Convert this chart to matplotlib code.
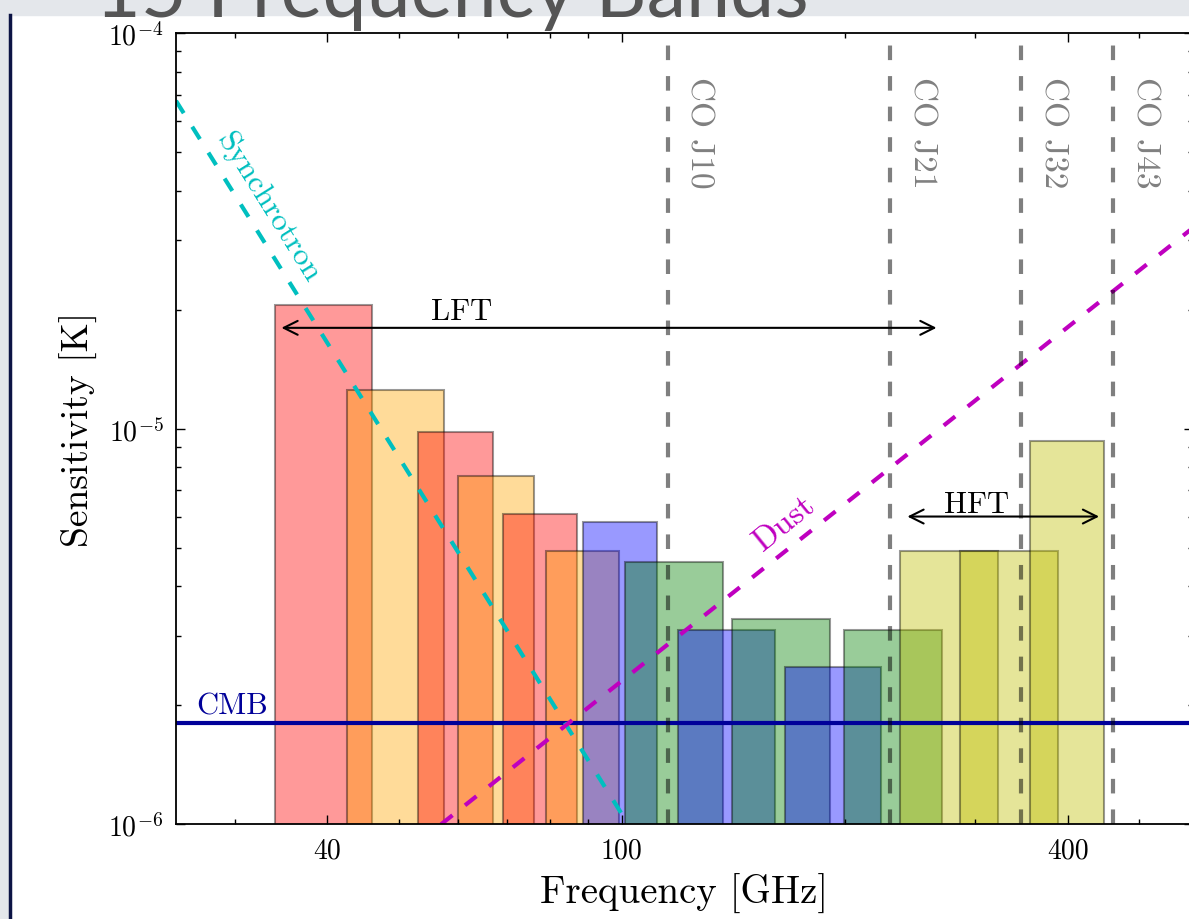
import numpy as np
import matplotlib
matplotlib.use('Agg')
import matplotlib.pyplot as plt
from matplotlib.ticker import LogLocator, NullFormatter
from matplotlib.patches import Rectangle
from matplotlib.lines import Line2D

plt.rcParams['font.family'] = 'serif'
plt.rcParams['font.serif'] = ['cmr10']
plt.rcParams['mathtext.fontset'] = 'cm'
plt.rcParams['axes.unicode_minus'] = False
plt.rcParams['axes.formatter.use_mathtext'] = True
plt.rcParams['lines.scale_dashes'] = False

# frequency bands: centre [GHz], width [GHz], sensitivity [K]
band_freq = [40, 50, 60, 68, 78, 89, 100, 119, 140, 166, 195, 235, 280, 337, 402]
band_width = [12, 15, 14, 16, 18, 20, 23, 36, 42, 50, 58, 71, 85, 102, 92]
band_sens = [2.06e-5, 1.25e-5, 9.8e-6, 7.6e-6, 6.1e-6, 4.9e-6, 5.8e-6, 4.6e-6,
             3.1e-6, 3.3e-6, 2.5e-6, 3.1e-6, 4.9e-6, 4.9e-6, 9.3e-6]
band_color = ['r', 'orange', 'r', 'orange', 'r', 'orange', 'b', 'g',
              'b', 'g', 'b', 'g', 'y', 'y', 'y']

# CO lines
co_freq = [115.27, 230.54, 345.80, 461.04]
co_names = ['CO J10', 'CO J21', 'CO J32', 'CO J43']

# foregrounds / CMB level
cmb_level = 1.8e-6
synch_freq = [25, 102]
synch_temp = [6.75e-5, 1.0e-6]
dust_freq = [57, 600]
dust_temp = [1.0e-6, 3.3e-5]

# telescopes coverage
lft_range = [34.7, 266]
lft_level = 1.8e-5
hft_range = [243, 441]
hft_level = 6.0e-6

xtick_vals = [40, 100, 400]

W, H = 1189, 920
fig = plt.figure(figsize=(W / 100, H / 100), dpi=100)

# slide background bits around the figure
fig.add_artist(Rectangle((0, 1 - 16 / H), 1, 16 / H, transform=fig.transFigure,
                         color='#e4e7eb', zorder=-5))
fig.add_artist(Rectangle((0, 0), 8 / W, 1, transform=fig.transFigure,
                         color='#e4e7eb', zorder=-5))
fig.add_artist(Line2D([9.5 / W, 9.5 / W], [0, 1 - 16 / H], transform=fig.transFigure,
                      color='#0c1445', lw=2.5, zorder=5))

ax = fig.add_axes([176 / W, 94.7 / H, 1016.7 / W, 791 / H])
ax.set_xscale('log')
ax.set_yscale('log')

for f, w, s, c in zip(band_freq, band_width, band_sens, band_color):
    ax.bar(f, s, width=w, color=c, alpha=0.4, edgecolor='k', linewidth=1.5)

ax.axhline(cmb_level, color='#000099', lw=3)
ax.text(26.6, 1.91e-6, 'CMB', color='#000099', fontsize=22, ha='left', va='baseline')

ax.plot(synch_freq, synch_temp, color='c', lw=3, dashes=(10.5, 11.5))
ax.text(33.3, 3.66e-5, 'Synchrotron', color='c', fontsize=23, rotation=-58,
        ha='center', va='center', rotation_mode='anchor')
ax.plot(dust_freq, dust_temp, color='m', lw=3, dashes=(10.5, 11.5))
ax.text(166, 5.8e-6, 'Dust', color='m', fontsize=24, rotation=39,
        ha='center', va='center', rotation_mode='anchor')

for f, name in zip(co_freq, co_names):
    ax.axvline(f, color='k', alpha=0.5, lw=3, dashes=(10.5, 11.5))
    ax.text(f * 1.055, 7.8e-5, name, rotation=-90, ha='left', va='top',
            color='#808080', fontsize=24)

ax.annotate('', xy=(lft_range[0], lft_level), xytext=(lft_range[1], lft_level),
            arrowprops=dict(arrowstyle='<->', lw=1.5, color='k', mutation_scale=25,
                            shrinkA=0, shrinkB=0))
ax.text(60.7, 1.895e-5, 'LFT', fontsize=22, ha='center', va='baseline')
ax.annotate('', xy=(hft_range[0], hft_level), xytext=(hft_range[1], hft_level),
            arrowprops=dict(arrowstyle='<->', lw=1.5, color='k', mutation_scale=25,
                            shrinkA=0, shrinkB=0))
ax.text(301, 6.17e-6, 'HFT', fontsize=22, ha='center', va='baseline')

ax.set_xlim(25, 590)
ax.set_ylim(1e-6, 1e-4)
ax.set_xticks(xtick_vals, [str(v) for v in xtick_vals])
ax.xaxis.set_minor_locator(LogLocator(10, subs=np.arange(2, 10)))
ax.xaxis.set_minor_formatter(NullFormatter())
ax.yaxis.set_minor_formatter(NullFormatter())
ax.tick_params(which='both', direction='in', top=True, right=True)
ax.tick_params(which='major', length=6.5, width=1, labelsize=20, pad=9)
ax.tick_params(which='minor', length=3.6, width=1)
for sp in ax.spines.values():
    sp.set_linewidth(1.3)

ax.set_xlabel('Frequency [GHz]', fontsize=28, labelpad=7)
ax.set_ylabel('Sensitivity [K]', fontsize=27, labelpad=7)

# slide title, mostly cut off by the top edge
title = fig.text(95 / W, 1 - 17 / H, '15 Frequency Bands', color='#555555',
                 family='Lato', fontsize=60, va='baseline', zorder=6)
fig.canvas.draw()
tw = title.get_window_extent().width
title.set_fontsize(60 * 715 / tw)

fig.savefig('out.png', dpi=100)
